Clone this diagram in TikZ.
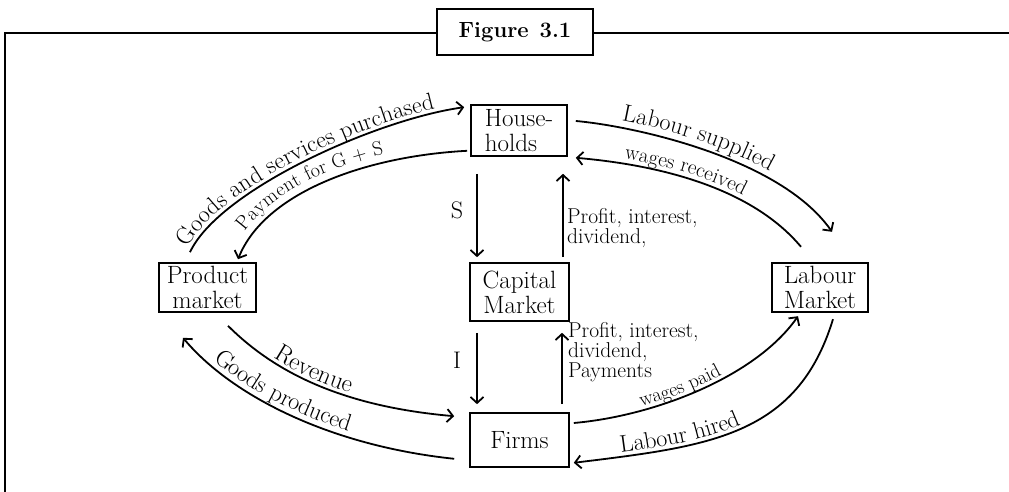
\documentclass[tikz,border=0pt]{standalone}
\usepackage{fontspec}
\usetikzlibrary{arrows.meta,decorations.text}
\begin{document}
\begin{tikzpicture}[x=1pt,y=1pt,
  frame/.style={line width=2pt},
  box/.style={draw, line width=1.6pt, inner sep=0pt, align=center, font=\fontsize{25}{25}\selectfont},
  flow/.style={line width=1.8pt, -{Straight Barb[length=6pt,width=13pt]}},
  wolf/.style={line width=1.8pt, {Straight Barb[length=6pt,width=13pt]}-},
  lbl/.style={font=\fontsize{21.5}{18.5}\selectfont, align=left, inner sep=0pt},
  big/.style={font=\fontsize{24}{24}\selectfont, inner sep=0pt},
  curvlab/.style n args={4}{decorate, decoration={text along path, raise=#1, text align={left indent=#2}, text={|\fontsize{#3}{#3}\selectfont|#4}}}
]
\useasboundingbox (0,0) rectangle (1009,492);
\draw[frame] (5,0) -- (5,459) -- (1009,459);
\node[box, line width=2pt, minimum width=156pt, minimum height=46pt, fill=white, font=\bfseries\fontsize{22}{22}\selectfont] (title) at (515,460) {Figure\hspace{0.5em}3.1};

\node[box, minimum width=96pt, minimum height=51pt, align=left] (hh) at (519,361.5) {House-\\holds};
\node[box, minimum width=99pt, minimum height=58pt] (cap) at (519.5,200) {Capital\\Market};
\node[box, minimum width=99pt, minimum height=54pt] (firms) at (519.5,52) {Firms};
\node[box, minimum width=97pt, minimum height=49pt] (pm) at (207.5,204.5) {Product\\market};
\node[box, line width=2.4pt, minimum width=96pt, minimum height=49pt] (lm) at (820,204.5) {Labour\\Market};

% vertical flows
\draw[flow] ([xshift=-42pt,yshift=-17pt]hh.south) -- ([xshift=-42.5pt,yshift=5pt]cap.north);
\draw[flow] ([xshift=43.5pt,yshift=5pt]cap.north) -- ([xshift=44pt,yshift=-17pt]hh.south);
\draw[flow] ([xshift=-42.5pt,yshift=-11pt]cap.south) -- ([xshift=-42.5pt,yshift=8pt]firms.north);
\draw[flow] ([xshift=42.5pt,yshift=8pt]firms.north) -- ([xshift=42.5pt,yshift=-11pt]cap.south);

\node[big] (s) at (457,282) {S};
\node[big] (i) at (457,132) {I};
\node[lbl, anchor=north west] (pr1) at (567,284) {Profit, interest,\\dividend,};
\node[lbl, anchor=north west] (pr2) at (568,170) {Profit, interest,\\dividend,\\Payments};

% 1 Goods purchased
\coordinate (g1) at ([xshift=-17.5pt,yshift=10pt]pm.north);
\coordinate (g2) at ([xshift=-6pt,yshift=-3pt]hh.north west);
\draw[flow] (g1) .. controls +(65:68) and +(188:90) .. (g2);
\path[curvlab={4pt}{2pt}{24}{Goods and services purchased}] (g1) .. controls +(65:68) and +(188:90) .. (g2);

% 2 Payment
\coordinate (p1) at ([xshift=30.5pt,yshift=3pt]pm.north);
\coordinate (p2) at ([xshift=-3pt,yshift=6pt]hh.south west);
\draw[wolf] (p1) .. controls +(68:72) and +(183:102) .. (p2);
\path[curvlab={8pt}{26pt}{20}{Payment for G + S}] (p1) .. controls +(68:72) and +(183:102) .. (p2);

% 3 Labour supplied
\coordinate (l1) at ([xshift=8pt,yshift=9.5pt]hh.east);
\coordinate (l2) at ([xshift=12pt,yshift=30pt]lm.north);
\draw[flow] (l1) .. controls +(-5:56) and +(125:91) .. (l2);
\path[curvlab={7pt}{45pt}{24}{Labour supplied}] (l1) .. controls +(-5:56) and +(125:91) .. (l2);

% 4 wages received
\coordinate (w1) at ([xshift=8pt,yshift=-1pt]hh.south east);
\coordinate (w2) at ([xshift=-19pt,yshift=15pt]lm.north);
\draw[wolf] (w1) .. controls +(-5:72) and +(130:83) .. (w2);
\path[curvlab={5pt}{48pt}{21}{wages received}] (w1) .. controls +(-5:72) and +(130:83) .. (w2);

% 5 Revenue
\coordinate (r1) at ([xshift=20.5pt,yshift=-13pt]pm.south);
\coordinate (r2) at ([xshift=-15pt,yshift=-4pt]firms.north west);
\draw[flow] (r1) .. controls +(-45:70) and +(175:107) .. (r2);
\path[curvlab={4pt}{56pt}{25}{Revenue}] (r1) .. controls +(-45:70) and +(175:107) .. (r2);

% 6 Goods produced
\coordinate (d1) at ([xshift=-24.5pt,yshift=-25pt]pm.south);
\coordinate (d2) at ([xshift=-15pt,yshift=9pt]firms.south west);
\draw[wolf] (d1) .. controls +(-50:75) and +(174:126) .. (d2);
\path[curvlab={6pt}{38pt}{24}{Goods produced}] (d1) .. controls +(-50:75) and +(174:126) .. (d2);

% 7 wages paid
\coordinate (wp1) at ([xshift=4pt,yshift=17pt]firms.east);
\coordinate (wp2) at ([xshift=-22pt,yshift=-3pt]lm.south);
\draw[flow] (wp1) .. controls +(5:81) and +(235:74) .. (wp2);
\path[curvlab={4pt}{70pt}{20}{wages paid}] (wp1) .. controls +(5:81) and +(235:74) .. (wp2);

% 8 Labour hired
\coordinate (h1) at ([xshift=4pt,yshift=5pt]firms.south east);
\coordinate (h2) at ([xshift=13pt,yshift=-6pt]lm.south);
\draw[wolf] (h1) .. controls +(7:136) and +(253:123) .. (h2);
\path[curvlab={4pt}{48pt}{24}{Labour hired}] (h1) .. controls +(7:136) and +(253:123) .. (h2);
\end{tikzpicture}
\end{document}
